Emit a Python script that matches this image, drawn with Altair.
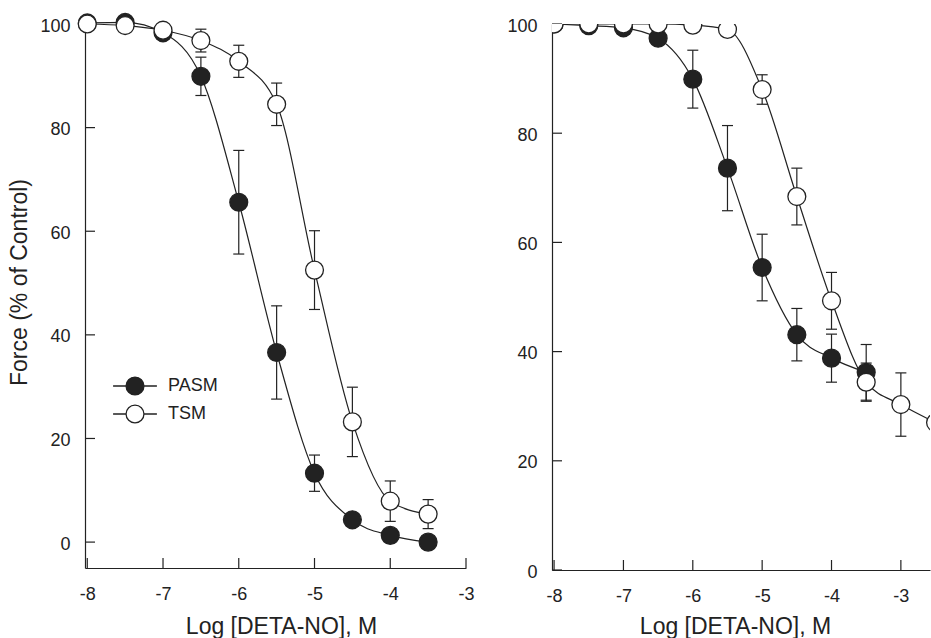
import altair as alt
import pandas as pd

# ---------------- data ----------------
conc = [-8, -7.5, -7, -6.5, -6, -5.5, -5, -4.5, -4, -3.5]
conc_right_tsm = [-8, -7.5, -7, -6.5, -6, -5.5, -5, -4.5, -4, -3.5, -3, -2.5]

pasm_left = [100.2, 100.3, 98.3, 89.9, 65.6, 36.6, 13.3, 4.3, 1.3, 0.0]
pasm_left_err = [0.5, 0.5, 1.0, 3.7, 10.0, 9.0, 3.5, 1.0, 1.0, 0.5]
tsm_left = [100.0, 99.7, 98.8, 96.8, 92.8, 84.5, 52.5, 23.2, 7.9, 5.4]
tsm_left_err = [0.3, 0.5, 0.8, 2.2, 3.1, 4.1, 7.6, 6.7, 3.9, 2.8]

pasm_right = [100.0, 99.7, 99.3, 97.4, 89.9, 73.6, 55.4, 43.1, 38.8, 36.2]
pasm_right_err = [0.5, 0.5, 0.5, 1.0, 5.3, 7.8, 6.1, 4.8, 4.4, 5.1]
tsm_right = [100.0, 100.0, 100.0, 100.0, 99.8, 99.0, 88.0, 68.4, 49.3, 34.4, 30.3, 27.0]
tsm_right_err = [0.3, 0.3, 0.3, 0.3, 0.5, 0.8, 2.7, 5.2, 5.2, 3.5, 5.8, 7.0]

series_names = ["PASM", "TSM"]
x_ticks = [-8, -7, -6, -5, -4, -3]
y_ticks = [0, 20, 40, 60, 80, 100]
x_title = "Log [DETA-NO], M"
y_title = "Force (% of Control)"

INK = "#222222"
FONT = "Liberation Sans"
LEGEND_PATH = "M-2.45,0H-1M1,0H2.45M-1,0A1,1 0 1,1 1,0A1,1 0 1,1 -1,0Z"


def frame(xs, ys, errs, name):
    return pd.DataFrame({
        "x": xs,
        "y": ys,
        "lo": [v - e for v, e in zip(ys, errs)],
        "hi": [v + e for v, e in zip(ys, errs)],
        "series": name,
    })


def panel(df, xdom, ydom, w, h, legend, ytitle, title_x, title_y, clip):
    xs = alt.Scale(domain=xdom, nice=False, zero=False)
    ys = alt.Scale(domain=ydom, nice=False, zero=False)
    base = alt.Chart(df)

    x_axis = alt.Axis(values=x_ticks, labelExpr="'' + datum.value", title=x_title,
                      titleX=title_x, titleY=title_y, titleAlign="center",
                      titleBaseline="alphabetic", labelFlush=False, labelPadding=17)
    if ytitle:
        y_axis = alt.Axis(values=y_ticks, labelExpr="'' + datum.value", title=ytitle,
                          titleX=-59, titleY=258, titleAngle=270, titleAlign="center",
                          titleBaseline="alphabetic", labelPadding=15, labelOffset=2)
    else:
        y_axis = alt.Axis(values=y_ticks, labelExpr="'' + datum.value", title=None,
                          labelPadding=15, labelOffset=2)

    X = lambda f: alt.X(f, scale=xs, axis=x_axis)
    Y = lambda f: alt.Y(f, scale=ys, axis=y_axis)

    line = base.mark_line(interpolate="monotone", color=INK, strokeWidth=1.2, clip=clip).encode(
        x=X("x:Q"), y=Y("y:Q"), detail="series:N",
    )
    bars = base.mark_rule(color=INK, strokeWidth=1.2, clip=clip).encode(
        x=X("x:Q"), y=Y("lo:Q"), y2="hi:Q",
    )
    cap_lo = base.mark_tick(orient="horizontal", size=11, thickness=1.2, color=INK,
                            opacity=1, clip=clip).encode(x=X("x:Q"), y=Y("lo:Q"))
    cap_hi = base.mark_tick(orient="horizontal", size=11, thickness=1.2, color=INK,
                            opacity=1, clip=clip).encode(x=X("x:Q"), y=Y("hi:Q"))
    pts = base.mark_point(shape="circle", size=320, filled=True, opacity=1,
                          stroke=INK, strokeWidth=1.3, clip=clip).encode(
        x=X("x:Q"), y=Y("y:Q"),
        fill=alt.Fill("series:N",
                      scale=alt.Scale(domain=series_names, range=[INK, "white"]),
                      legend=legend),
    )
    xt = alt.Chart(pd.DataFrame({"v": x_ticks})).mark_tick(
        orient="vertical", size=10, thickness=1.2, yOffset=-5, color=INK, opacity=1
    ).encode(
        x=X("v:Q"),
        y=alt.YDatum(ydom[0], scale=ys, axis=y_axis),
    )
    yt = alt.Chart(pd.DataFrame({"v": y_ticks})).mark_tick(
        orient="horizontal", size=10, thickness=1.2, xOffset=5, color=INK, opacity=1
    ).encode(
        y=Y("v:Q"),
        x=alt.XDatum(xdom[0], scale=xs, axis=x_axis),
    )
    return alt.layer(line, bars, cap_lo, cap_hi, xt, yt, pts).properties(width=w, height=h)


left_df = pd.concat([frame(conc, pasm_left, pasm_left_err, "PASM"),
                     frame(conc, tsm_left, tsm_left_err, "TSM")], ignore_index=True)
right_df = pd.concat([frame(conc, pasm_right, pasm_right_err, "PASM"),
                      frame(conc_right_tsm, tsm_right, tsm_right_err, "TSM")], ignore_index=True)

legend = alt.Legend(orient="none", legendX=40, legendY=352, title=None,
                    symbolType=LEGEND_PATH, symbolSize=320, symbolStrokeColor=INK,
                    symbolStrokeWidth=1.3, symbolOpacity=1, labelFont=FONT,
                    labelFontSize=18, labelColor=INK, labelOffset=23, rowPadding=4,
                    padding=0)

left = panel(left_df, [-8.03, -3], [-5, 100], 381, 544, legend, y_title, 196, 65, False)
right = panel(right_df, [-8.03, -2.58], [0, 100], 378, 546, None, None, 183, 63, True)

chart = alt.hconcat(left, right, spacing=86, bounds="flush").resolve_scale(
    fill="independent"
).resolve_legend(
    fill="independent"
).configure_view(
    stroke="transparent"
).configure_axis(
    domainColor=INK, domainWidth=1.2, ticks=False, tickSize=0, grid=False,
    labelFont=FONT, labelFontSize=18, labelColor=INK,
    titleFont=FONT, titleFontSize=23, titleFontWeight="normal", titleColor=INK,
).properties(
    padding={"left": 7, "top": 10, "right": 0, "bottom": 0}
)

chart.save("out.html", embed_options={"renderer": "svg", "actions": False})
